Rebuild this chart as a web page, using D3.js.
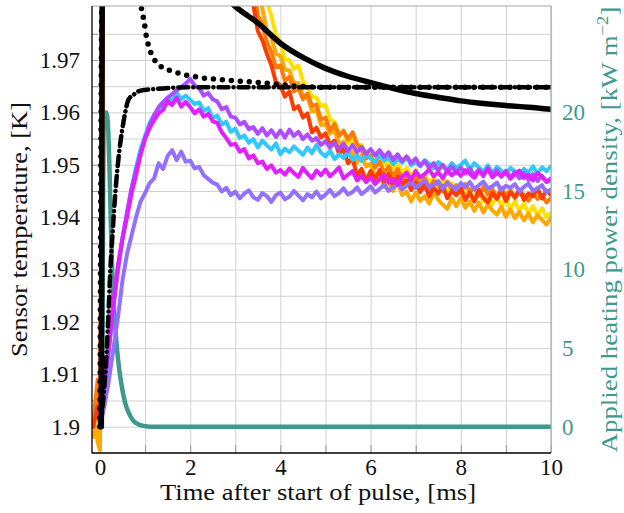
<!DOCTYPE html>
<html><head><meta charset="utf-8">
<script src="https://cdn.jsdelivr.net/npm/d3@7/dist/d3.min.js"></script>
<style>body{margin:0;background:#fff}svg{display:block}</style>
</head><body>
<svg id="c" width="624" height="513"></svg>
<script>
// ---------- axis / tick data ----------
const xTicks = [0, 2, 4, 6, 8, 10];
const xGrid = [0, 1, 2, 3, 4, 5, 6, 7, 8, 9, 10];
const yTicks = [1.9, 1.91, 1.92, 1.93, 1.94, 1.95, 1.96, 1.97];
const yTickLabels = ["1.9", "1.91", "1.92", "1.93", "1.94", "1.95", "1.96", "1.97"];
const yGrid = [1.9, 1.905, 1.91, 1.915, 1.92, 1.925, 1.93, 1.935, 1.94, 1.945, 1.95, 1.955, 1.96, 1.965, 1.97, 1.975];
const rTicks = [0, 5, 10, 15, 20];

// ---------- measured curves (time in ms, temperature in K) ----------
const coolTimes = d3.range(0, 101).map(i => i / 10);
const violetT = [
1.9000,1.9040,1.9090,1.9150,1.9210,1.9280,1.9330,1.9365,1.9400,1.9430,
1.9446,1.9465,1.9474,1.9503,1.9492,1.9517,1.9528,1.9509,1.9525,1.9506,
1.9508,1.9493,1.9496,1.9480,1.9473,1.9466,1.9462,1.9449,1.9456,1.9442,
1.9449,1.9436,1.9445,1.9451,1.9438,1.9433,1.9446,1.9440,1.9429,1.9442,
1.9447,1.9434,1.9439,1.9450,1.9441,1.9432,1.9444,1.9438,1.9449,1.9436,
1.9443,1.9452,1.9440,1.9446,1.9455,1.9443,1.9448,1.9457,1.9444,1.9451,
1.9459,1.9447,1.9454,1.9462,1.9450,1.9457,1.9465,1.9453,1.9460,1.9468,
1.9456,1.9463,1.9470,1.9457,1.9462,1.9469,1.9454,1.9466,1.9459,1.9452,
1.9465,1.9458,1.9467,1.9453,1.9461,1.9468,1.9455,1.9459,1.9466,1.9451,
1.9460,1.9456,1.9463,1.9449,1.9458,1.9464,1.9450,1.9455,1.9461,1.9447,
1.9453];
const magentaT = [
1.9020,1.9080,1.9160,1.9240,1.9310,1.9360,1.9400,1.9445,1.9480,1.9520,
1.9550,1.9570,1.9585,1.9598,1.9605,1.9622,1.9614,1.9628,1.9611,1.9620,
1.9610,1.9598,1.9606,1.9592,1.9597,1.9583,1.9580,1.9562,1.9551,1.9538,
1.9540,1.9525,1.9530,1.9512,1.9518,1.9503,1.9506,1.9492,1.9499,1.9485,
1.9490,1.9481,1.9493,1.9484,1.9477,1.9494,1.9483,1.9474,1.9489,1.9480,
1.9491,1.9478,1.9486,1.9495,1.9474,1.9481,1.9488,1.9470,1.9479,1.9467,
1.9476,1.9463,1.9472,1.9481,1.9466,1.9473,1.9462,1.9477,1.9485,1.9471,
1.9488,1.9476,1.9482,1.9491,1.9478,1.9486,1.9474,1.9489,1.9480,1.9487,
1.9479,1.9490,1.9483,1.9475,1.9488,1.9481,1.9492,1.9476,1.9484,1.9479,
1.9486,1.9473,1.9482,1.9489,1.9475,1.9481,1.9470,1.9484,1.9477,1.9468,
1.9474];
const cyanT = [
1.9010,1.9070,1.9150,1.9230,1.9300,1.9360,1.9405,1.9455,1.9495,1.9530,
1.9555,1.9580,1.9595,1.9608,1.9615,1.9628,1.9622,1.9638,1.9625,1.9632,
1.9624,1.9616,1.9619,1.9603,1.9608,1.9589,1.9594,1.9577,1.9582,1.9563,
1.9569,1.9551,1.9556,1.9542,1.9549,1.9533,1.9546,1.9537,1.9529,1.9541,
1.9520,1.9531,1.9524,1.9535,1.9527,1.9519,1.9533,1.9522,1.9538,1.9523,
1.9516,1.9527,1.9511,1.9520,1.9513,1.9524,1.9509,1.9518,1.9507,1.9521,
1.9512,1.9505,1.9519,1.9508,1.9514,1.9501,1.9511,1.9504,1.9515,1.9499,
1.9506,1.9497,1.9509,1.9502,1.9493,1.9505,1.9498,1.9490,1.9503,1.9494,
1.9500,1.9508,1.9491,1.9503,1.9495,1.9487,1.9499,1.9484,1.9496,1.9489,
1.9482,1.9494,1.9487,1.9480,1.9492,1.9485,1.9497,1.9483,1.9495,1.9488,
1.9497];
const purpleT = [
1.9010,1.9070,1.9150,1.9230,1.9300,1.9360,1.9410,1.9455,1.9490,1.9520,
1.9550,1.9575,1.9595,1.9610,1.9620,1.9628,1.9635,1.9642,1.9648,1.9655,
1.9664,1.9651,1.9646,1.9632,1.9637,1.9625,1.9621,1.9606,1.9610,1.9592,
1.9590,1.9577,1.9582,1.9568,1.9572,1.9559,1.9570,1.9556,1.9566,1.9553,
1.9565,1.9552,1.9567,1.9555,1.9563,1.9549,1.9558,1.9546,1.9551,1.9538,
1.9545,1.9533,1.9542,1.9530,1.9540,1.9526,1.9538,1.9524,1.9534,1.9521,
1.9530,1.9518,1.9528,1.9515,1.9524,1.9509,1.9520,1.9507,1.9516,1.9503,
1.9512,1.9498,1.9507,1.9494,1.9503,1.9489,1.9500,1.9487,1.9497,1.9484,
1.9495,1.9483,1.9493,1.9480,1.9491,1.9478,1.9494,1.9481,1.9490,1.9477,
1.9489,1.9476,1.9486,1.9474,1.9484,1.9471,1.9482,1.9469,1.9479,1.9467,
1.9470];

const warmTimes = [-0.15, -0.1, -0.05, 0, 0.05, 0.1, 3.0].concat(d3.range(33, 101).map(i => i / 10));
const redT = [
1.9000,1.9020,1.9040,1.9000,1.9500,2.0500,2.0000,
1.9900,1.9805,1.9755,1.9738,1.9712,1.9690,1.9658,
1.9652,1.9630,1.9640,1.9606,1.9612,1.9590,1.9598,1.9562,1.9571,1.9552,
1.9560,1.9538,1.9546,1.9521,1.9530,1.9503,1.9512,1.9479,1.9492,1.9470,
1.9488,1.9472,1.9490,1.9466,1.9483,1.9460,1.9478,1.9463,1.9470,1.9452,
1.9466,1.9448,1.9461,1.9440,1.9457,1.9445,1.9460,1.9436,1.9450,1.9442,
1.9455,1.9433,1.9447,1.9430,1.9452,1.9437,1.9428,1.9446,1.9435,1.9450,
1.9431,1.9447,1.9439,1.9452,1.9433,1.9445,1.9440,1.9455,1.9436,1.9451,
1.9442];
const orangeT = [
1.9000,1.9050,1.9090,1.9030,1.9600,2.0500,2.0000,
1.9950,1.9850,1.9785,1.9768,1.9735,1.9715,1.9686,
1.9690,1.9660,1.9668,1.9640,1.9647,1.9625,1.9636,1.9612,1.9615,1.9586,
1.9590,1.9566,1.9578,1.9555,1.9565,1.9548,1.9562,1.9540,1.9528,1.9512,
1.9518,1.9495,1.9506,1.9484,1.9497,1.9477,1.9492,1.9470,1.9484,1.9465,
1.9478,1.9459,1.9474,1.9455,1.9469,1.9462,1.9450,1.9468,1.9452,1.9461,
1.9446,1.9463,1.9449,1.9457,1.9441,1.9458,1.9444,1.9453,1.9438,1.9456,
1.9440,1.9452,1.9436,1.9449,1.9443,1.9431,1.9447,1.9435,1.9442,1.9428,
1.9436];
const amberT = [
1.8980,1.9000,1.8970,1.8955,1.9500,2.0500,2.0000,
1.9970,1.9900,1.9838,1.9798,1.9756,1.9744,1.9712,
1.9708,1.9682,1.9680,1.9655,1.9656,1.9632,1.9630,1.9602,1.9605,1.9576,
1.9578,1.9560,1.9566,1.9540,1.9544,1.9522,1.9525,1.9504,1.9518,1.9497,
1.9502,1.9480,1.9484,1.9458,1.9466,1.9450,1.9468,1.9442,1.9449,1.9430,
1.9447,1.9431,1.9440,1.9426,1.9449,1.9433,1.9424,1.9416,1.9436,1.9421,
1.9437,1.9418,1.9430,1.9412,1.9428,1.9409,1.9424,1.9413,1.9405,1.9420,
1.9401,1.9415,1.9398,1.9410,1.9394,1.9407,1.9390,1.9404,1.9395,1.9386,
1.9398];
const yellowT = [
1.9000,1.9010,1.9030,1.9000,1.9500,2.0500,2.0000,
2.0000,1.9950,1.9900,1.9860,1.9812,1.9784,1.9748,
1.9735,1.9702,1.9700,1.9683,1.9690,1.9660,1.9648,1.9630,1.9628,1.9612,
1.9614,1.9586,1.9582,1.9560,1.9563,1.9541,1.9550,1.9532,1.9538,1.9522,
1.9528,1.9510,1.9517,1.9500,1.9508,1.9493,1.9501,1.9486,1.9494,1.9478,
1.9490,1.9470,1.9482,1.9463,1.9476,1.9458,1.9471,1.9450,1.9465,1.9446,
1.9459,1.9440,1.9453,1.9434,1.9449,1.9430,1.9444,1.9425,1.9439,1.9421,
1.9435,1.9416,1.9430,1.9412,1.9426,1.9408,1.9421,1.9404,1.9417,1.9400,
1.9408];

// ---------- model curves ----------
const solidTimes = [0.03, 0.04, 0.05, 0.1, 0.5, 1.0, 1.5, 2.0, 2.5, 2.99, 3.51, 4.0, 4.54, 5.0, 5.49, 6.0, 6.49, 7.0, 7.49, 8.0, 8.5, 9.0, 9.5, 10];
const solidVals  = [1.9, 1.94, 1.99, 2.05, 2.02, 2.005, 1.996, 1.9895, 1.9845, 1.9803, 1.977, 1.9732, 1.9703, 1.9684, 1.9669, 1.9657, 1.9646, 1.9636, 1.9629, 1.9622, 1.9617, 1.9613, 1.961, 1.9606];
const dottedTimes = [0, 0.05, 0.5, 0.85, 0.92, 0.98, 1.01, 1.06, 1.22, 1.4, 1.59, 1.77, 2.18, 2.73, 3.55, 4.4, 5, 6, 7, 8, 9, 10];
const dottedVals  = [1.9, 1.99, 2.06, 1.99, 1.9797, 1.9774, 1.9754, 1.9733, 1.9699, 1.9685, 1.9679, 1.9674, 1.9667, 1.9662, 1.9657, 1.965, 1.9648, 1.9648, 1.9648, 1.9648, 1.9648, 1.9648];
const dashdotTimes = [0, 0.08, 0.15, 0.19, 0.23, 0.28, 0.34, 0.42, 0.49, 0.56, 0.63, 0.75, 0.85, 1.0, 1.3, 1.6, 2.0, 3, 4, 5, 6, 7, 8, 9, 10];
const dashdotVals  = [1.9, 1.906, 1.9147, 1.922, 1.93, 1.937, 1.9446, 1.952, 1.9565, 1.96, 1.9624, 1.9634, 1.964, 1.9643, 1.9645, 1.9647, 1.9648, 1.9648, 1.9648, 1.9648, 1.9648, 1.9648, 1.9648, 1.9648, 1.9648];

// applied heating power density (kW m^-2), right axis
const powerTimes = [-0.177, 0.03, 0.05, 0.065, 0.08, 0.1, 0.14, 0.18, 0.21, 0.24, 0.27, 0.3, 0.34, 0.4, 0.47, 0.55, 0.65, 0.75, 0.9, 1.05, 1.2, 10];
const powerVals  = [0, 0, 3, 12, 19, 20, 20, 19, 16.5, 13, 10, 8, 6.3, 4.3, 2.8, 1.6, 0.8, 0.35, 0.1, 0.02, 0, 0];

// ---------- layout ----------
const L = 92, R = 551, T = 6, B = 453;
const font = "'Liberation Serif','Times New Roman',serif";
const teal = "#3f9a8e";

const svg = d3.select("#c");
const x = d3.scaleLinear().domain([-0.177, 10]).range([L, R]);
const y = d3.scaleLinear().domain([1.89498, 1.98031]).range([B, T]);
const yR = d3.scaleLinear().domain([(1.89498 - 1.9) / 0.003, (1.98031 - 1.9) / 0.003]).range([B, T]);

// grid
const gx = svg.append("g").attr("transform", `translate(0,${B})`)
  .call(d3.axisBottom(x).tickValues(xGrid).tickSize(-(B - T)).tickFormat(""));
const gy = svg.append("g").attr("transform", `translate(${L},0)`)
  .call(d3.axisLeft(y).tickValues(yGrid).tickSize(-(R - L)).tickFormat(""));
[gx, gy].forEach(g => {
  g.select(".domain").remove();
  g.selectAll("line").attr("stroke", "#d0d0d0").attr("stroke-width", 1);
});
// small inward tick marks
const tx = svg.append("g").attr("transform", `translate(0,${B})`)
  .call(d3.axisBottom(x).tickValues(xGrid).tickSize(-8).tickFormat(""));
const ty = svg.append("g").attr("transform", `translate(${L},0)`)
  .call(d3.axisLeft(y).tickValues(yGrid).tickSize(-6).tickFormat(""));
[tx, ty].forEach(g => {
  g.select(".domain").remove();
  g.selectAll("line").attr("stroke", "#9a9a9a").attr("stroke-width", 1);
});

// plot content (clipped)
svg.append("clipPath").attr("id", "clip").append("rect")
  .attr("x", L).attr("y", T).attr("width", R - L).attr("height", B - T);
const plot = svg.append("g").attr("clip-path", "url(#clip)");

function drawLine(ts, vs, scaleY, color, width, opts) {
  opts = opts || {};
  const data = ts.map((t, i) => [t, vs[i]]);
  const gen = d3.line().x(d => x(d[0])).y(d => scaleY(d[1])).curve(opts.curve || d3.curveLinear);
  plot.append("path").attr("d", gen(data))
    .attr("fill", "none").attr("stroke", color).attr("stroke-width", width)
    .attr("stroke-linejoin", "round").attr("stroke-linecap", "round")
    .attr("stroke-dasharray", opts.dash || null);
}

drawLine(powerTimes, powerVals, yR, teal, 4.5, {curve: d3.curveMonotoneX});

drawLine(warmTimes, yellowT, y, "#ffe000", 4);
drawLine(warmTimes, amberT, y, "#ffa800", 4);
drawLine(warmTimes, orangeT, y, "#ff7a00", 4);
drawLine(warmTimes, redT, y, "#ff3c00", 4);

drawLine(coolTimes, violetT, y, "#9370ff", 4);
drawLine(coolTimes, cyanT, y, "#30c8ff", 4);
drawLine(coolTimes, purpleT, y, "#b04cff", 4);
drawLine(coolTimes, magentaT, y, "#e020ff", 4);

drawLine(solidTimes, solidVals, y, "#000", 5.5, {curve: d3.curveMonotoneX});
drawLine(dottedTimes, dottedVals, y, "#000", 5.5, {curve: d3.curveMonotoneX, dash: "0,9"});
drawLine(dashdotTimes, dashdotVals, y, "#000", 4.5, {curve: d3.curveMonotoneX, dash: "10,5,0.1,5"});

// spines
svg.append("line").attr("x1", L).attr("x2", R).attr("y1", T).attr("y2", T).attr("stroke", "#a8a8a8").attr("stroke-width", 1.2);
svg.append("line").attr("x1", R).attr("x2", R).attr("y1", T).attr("y2", B).attr("stroke", "#9ab3b0").attr("stroke-width", 1.2);
svg.append("line").attr("x1", L).attr("x2", L).attr("y1", T).attr("y2", B + 0.6).attr("stroke", "#000").attr("stroke-width", 1.3);
svg.append("line").attr("x1", L).attr("x2", R).attr("y1", B).attr("y2", B).attr("stroke", "#000").attr("stroke-width", 1.3);

// tick labels
function styleTicks(g, color) {
  g.select(".domain").remove();
  g.selectAll("line").remove();
  g.selectAll("text").attr("font-family", font).attr("font-size", 23).attr("fill", color);
}
const ax = svg.append("g").attr("transform", `translate(0,${B})`)
  .call(d3.axisBottom(x).tickValues(xTicks).tickFormat(d3.format("d")).tickSize(0).tickPadding(6));
styleTicks(ax, "#111");
const ay = svg.append("g").attr("transform", `translate(${L},0)`)
  .call(d3.axisLeft(y).tickValues(yTicks).tickFormat((d, i) => yTickLabels[i]).tickSize(0).tickPadding(12));
styleTicks(ay, "#111");
const ar = svg.append("g").attr("transform", `translate(${R},0)`)
  .call(d3.axisRight(yR).tickValues(rTicks).tickFormat(d3.format("d")).tickSize(0).tickPadding(11));
styleTicks(ar, teal);

// axis titles
svg.append("text").attr("x", 318).attr("y", 500).attr("text-anchor", "middle")
  .attr("font-family", font).attr("font-size", 23).attr("fill", "#111")
  .attr("textLength", 316).attr("lengthAdjust", "spacingAndGlyphs")
  .text("Time after start of pulse, [ms]");
svg.append("text").attr("transform", "translate(27,229.5) rotate(-90)").attr("text-anchor", "middle")
  .attr("font-family", font).attr("font-size", 23).attr("fill", "#111")
  .attr("textLength", 255).attr("lengthAdjust", "spacingAndGlyphs")
  .text("Sensor temperature, [K]");

const rl = svg.append("text").attr("text-anchor", "middle")
  .attr("font-family", font).attr("font-size", 23).attr("fill", teal);
rl.append("tspan").text("Applied heating power density, [kW m");
rl.append("tspan").attr("font-size", 16).attr("dy", -9).text("\u22122");
rl.append("tspan").attr("dy", 9).text("]");
const rlw = rl.node().getComputedTextLength();
rl.attr("transform", `translate(617,229.5) rotate(-90) scale(${446 / rlw},1)`);
</script>
</body></html>
